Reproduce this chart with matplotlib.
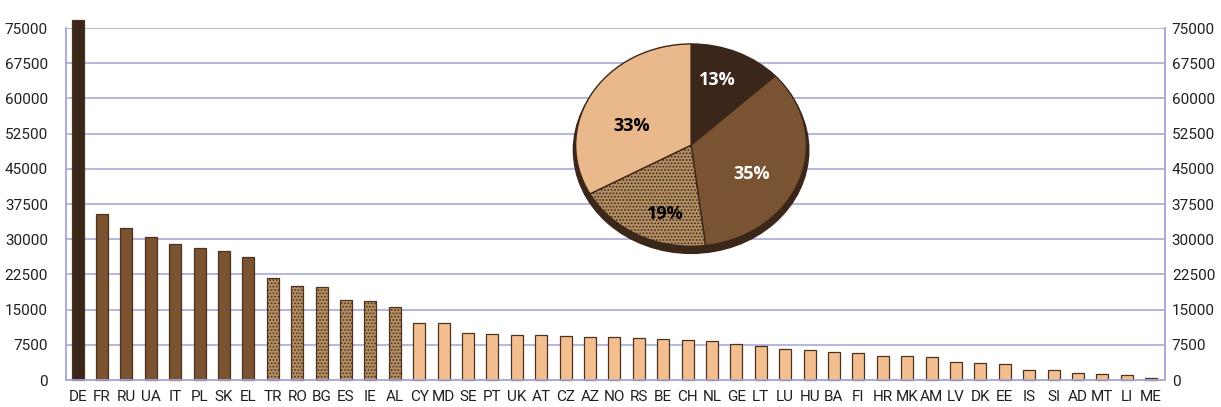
import matplotlib
matplotlib.use('Agg')
import matplotlib.pyplot as plt
import matplotlib.font_manager as fm
import numpy as np
from matplotlib.patches import Ellipse

# data ------------------------------------------------------------------------
countries = ['DE', 'FR', 'RU', 'UA', 'IT', 'PL', 'SK', 'EL',
             'TR', 'RO', 'BG', 'ES', 'IE', 'AL',
             'CY', 'MD', 'SE', 'PT', 'UK', 'AT', 'CZ', 'AZ', 'NO', 'RS', 'BE',
             'CH', 'NL', 'GE', 'LT', 'LU', 'HU', 'BA', 'FI', 'HR', 'MK', 'AM',
             'LV', 'DK', 'EE', 'IS', 'SI', 'AD', 'MT', 'LI', 'ME']
values = [76800, 35400, 32300, 30450, 29050, 28200, 27500, 26150,
          21750, 20100, 19750, 17000, 16800, 15650,
          12250, 12050, 10050, 9900, 9650, 9500, 9350, 9200, 9150, 8850, 8800,
          8500, 8350, 7750, 7150, 6600, 6500, 5950, 5800, 5150, 5050, 4900,
          3900, 3700, 3450, 2200, 2100, 1400, 1250, 1050, 400]
groups = [0] + [1] * 7 + [2] * 6 + [3] * 31   # 0 dark, 1 brown, 2 dotted, 3 light

pie_values = [13, 35, 19, 33]
pie_groups = [0, 1, 2, 3]

yticks = [0, 7500, 15000, 22500, 30000, 37500, 45000, 52500, 60000, 67500, 75000]

# style -----------------------------------------------------------------------
fill = ['#3b2719', '#7b5331', '#b48e63', '#f4bf90']
pie_fill = ['#3b2719', '#7a5332', '#b48e63', '#e9b98b']
hatch = [None, None, '.....', None]
edge = '#4a3220'
grid_col = '#a9a9d9'
txt_col = '#231f20'

# pick a narrow face if there is one, else Roboto
def have(name):
    try:
        fm.findfont(fm.FontProperties(family=name), fallback_to_default=False)
        return True
    except Exception:
        return False

if have('Liberation Sans Narrow'):
    lab_font, lab_size = 'Liberation Sans Narrow', 12
else:
    lab_font, lab_size = 'Roboto', 11

plt.rcParams['font.family'] = [lab_font, 'DejaVu Sans']
plt.rcParams['hatch.linewidth'] = 0.8

fig = plt.figure(figsize=(12.21, 4.07), dpi=100)
ax = fig.add_axes([0.054, 0.0663, 0.9, 0.8647])

x = np.arange(len(countries))
for i in range(len(countries)):
    g = groups[i]
    ax.bar(x[i], values[i], 0.49, color=fill[g], edgecolor=edge,
           linewidth=0.9, hatch=hatch[g], clip_on=False, zorder=3)

ax.set_ylim(0, 75000)
ax.set_xlim(-0.48, len(countries) - 1 + 0.56)
ax.set_yticks(yticks)
ax.set_yticklabels([str(t) for t in yticks], fontsize=lab_size, color=txt_col)
ax.set_xticks(x)
ax.set_xticklabels(countries, fontsize=lab_size, color=txt_col)
ax.tick_params(axis='y', length=0, pad=13)
ax.tick_params(axis='x', length=0, pad=7)

# right-hand copy of the scale
ax2 = ax.twinx()
ax2.set_ylim(0, 75000)
ax2.set_yticks(yticks)
ax2.set_yticklabels([str(t) for t in yticks], fontsize=lab_size, color=txt_col)
ax2.tick_params(axis='y', length=0, pad=5)

for yv in yticks[1:]:
    ax.axhline(yv, color=grid_col, lw=1.2, zorder=1)
for a in (ax, ax2):
    for s in ['left', 'right', 'bottom']:
        a.spines[s].set_color(grid_col)
        a.spines[s].set_linewidth(1.2)
    a.spines['top'].set_visible(False)

# pie inset -------------------------------------------------------------------
pax = fig.add_axes([0.4677, 0.37, 0.1966, 0.527])
pax.add_patch(Ellipse((0.0, -0.05), 2.04, 2.04, color='#3b2719', zorder=0))
wedges, texts, autotexts = pax.pie(
    pie_values, colors=[pie_fill[g] for g in pie_groups], startangle=90,
    counterclock=False, autopct='%d%%', pctdistance=0.62,
    wedgeprops=dict(edgecolor='#3b2719', linewidth=1.0),
    textprops=dict(fontsize=13, fontweight='bold', family=['Open Sans', 'DejaVu Sans']))
wedges[2].set_hatch('.....')

# label spots inside each wedge (distance from centre, angle shift in degrees)
lab_r = [0.68, 0.6, 0.72, 0.55]
lab_shift = [4, -9, 9, 10]
for k, t in enumerate(autotexts):
    w = wedges[k]
    ang = np.deg2rad((w.theta1 + w.theta2) / 2 + lab_shift[k])
    t.set_position((lab_r[k] * np.cos(ang), lab_r[k] * np.sin(ang)))
    t.set_color('white' if pie_groups[k] < 2 else 'black')
pax.set_aspect('auto')
pax.set_xlim(-1.04, 1.04)
pax.set_ylim(-1.1, 1.02)
pax.axis('off')

plt.savefig('out.png', dpi=100)
